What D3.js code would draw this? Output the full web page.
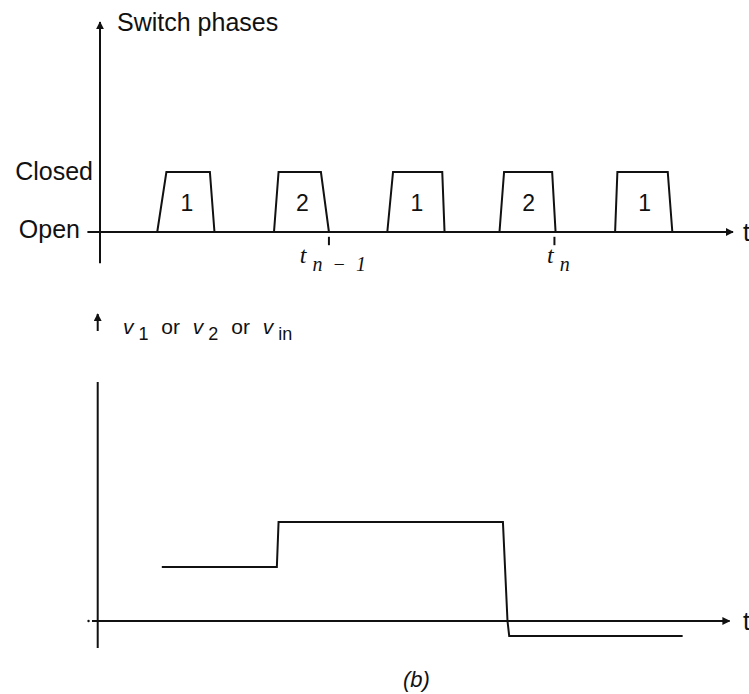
<!DOCTYPE html>
<html>
<head>
<meta charset="utf-8">
<script src="https://cdn.jsdelivr.net/npm/d3@7/dist/d3.min.js"></script>
<style>
    body { margin: 0; background: #fff; }
    text { font-family: "Liberation Sans", Arial, sans-serif; fill: #111; }
</style>
</head>
<body>
<svg id="chart"></svg>
<script>
// switch phases (time in half-periods from the origin)
var phaseLabels = ["1", "2", "1", "2", "1"];
var riseStart = [0.50, 1.52, 2.51, 3.49, 4.50];
var riseEnd = [0.58, 1.56, 2.56, 3.53, 4.52];
var fallStart = [0.96, 1.93, 2.99, 3.95, 4.96];
var fallEnd = [1.00, 2.00, 3.01, 3.98, 5.00];
var stateLabels = ["Open", "Closed"];
var sampleTimes = [2.00, 3.97];
var sampleSubs = ["n \u2212 1", "n"];

// voltage waveform (b)
var vTimes = [0.54, 1.545, 1.56, 3.52, 3.56, 3.575, 5.09];
var vValues = [0.54, 0.54, 0.99, 0.99, 0.0, -0.15, -0.15];

var width = 749,
    height = 694;

var svg = d3.select("#chart")
    .attr("width", width)
    .attr("height", height);

svg.append("defs").append("marker")
    .attr("id", "arrow")
    .attr("viewBox", "0 0 10 10")
    .attr("refX", 9)
    .attr("refY", 5)
    .attr("markerWidth", 4)
    .attr("markerHeight", 4)
    .attr("orient", "auto")
    .append("path")
    .attr("d", "M0,0 L10,5 L0,10 Z")
    .attr("fill", "#111");

var x = d3.scaleLinear().domain([0, 5.53]).range([100, 733]);
var yTop = d3.scaleLinear().domain([0, 1]).range([232, 172]);
var yBot = d3.scaleLinear().domain([0, 1]).range([621, 521]);

var line = d3.line();

function axisLine(pts, arrow) {
    var p = svg.append("path")
        .attr("d", line(pts))
        .attr("fill", "none")
        .attr("stroke", "#111")
        .attr("stroke-width", 2);
    if (arrow) p.attr("marker-end", "url(#arrow)");
    return p;
}

// ---- top panel: switch phases ----
axisLine([[x(-0.11), yTop(0)], [x(5.53), yTop(0)]], true);
axisLine([[x(0), yTop(-0.52)], [x(0), yTop(3.5)]], true);

svg.append("text")
    .attr("x", 117)
    .attr("y", 31)
    .style("font-size", "25px")
    .text("Switch phases");

svg.selectAll(".state")
    .data(stateLabels)
    .enter().append("text")
    .attr("class", "state")
    .attr("x", function(d, i) { return i ? 93 : 80; })
    .attr("y", function(d, i) { return yTop(i) + (i ? 8 : 6); })
    .attr("text-anchor", "end")
    .style("font-size", "25px")
    .text(function(d) { return d; });

var pulses = phaseLabels.map(function(d, i) {
    return {
        label: d,
        pts: [[riseStart[i], 0], [riseEnd[i], 1], [fallStart[i], 1], [fallEnd[i], 0]]
    };
});

svg.selectAll(".pulse")
    .data(pulses)
    .enter().append("path")
    .attr("class", "pulse")
    .attr("d", function(d) {
        return line(d.pts.map(function(p) { return [x(p[0]), yTop(p[1])]; }));
    })
    .attr("fill", "none")
    .attr("stroke", "#111")
    .attr("stroke-width", 2);

svg.selectAll(".plabel")
    .data(pulses)
    .enter().append("text")
    .attr("class", "plabel")
    .attr("x", function(d) { return x((d.pts[0][0] + d.pts[3][0]) / 2) + 1; })
    .attr("y", yTop(0.35))
    .attr("text-anchor", "middle")
    .style("font-size", "23px")
    .text(function(d) { return d.label; });

// sampling instants
svg.selectAll(".stick")
    .data(sampleTimes)
    .enter().append("line")
    .attr("class", "stick")
    .attr("x1", function(d) { return x(d); })
    .attr("x2", function(d) { return x(d); })
    .attr("y1", yTop(-0.08))
    .attr("y2", yTop(-0.22))
    .attr("stroke", "#111")
    .attr("stroke-width", 2);

var slabel = svg.selectAll(".slabel")
    .data(sampleTimes)
    .enter().append("text")
    .attr("class", "slabel")
    .attr("x", function(d) { return x(d) + 4; })
    .attr("y", 263)
    .attr("text-anchor", "middle");
slabel.append("tspan")
    .style("font-size", "24px")
    .style("font-style", "italic")
    .style("font-family", "Liberation Serif, serif")
    .text("t");
slabel.append("tspan")
    .attr("dx", 6)
    .attr("dy", 8)
    .style("font-size", "20px")
    .style("font-style", "italic")
    .style("font-family", "Liberation Serif, serif")
    .style("white-space", "pre")
    .text(function(d, i) { return sampleSubs[i].replace(/ /g, "\u2002"); });

svg.append("text")
    .attr("x", 743)
    .attr("y", yTop(0) + 9)
    .style("font-size", "25px")
    .text("t");

// ---- bottom panel: v1 or v2 or vin ----
axisLine([[x(-0.02), yBot(2.9)], [x(-0.02), yBot(3.07)]], true);
axisLine([[x(-0.02), yBot(-0.27)], [x(-0.02), yBot(2.39)]], false);
axisLine([[x(-0.07), yBot(0)], [x(5.50), yBot(0)]], true);

svg.append("circle")
    .attr("cx", x(-0.1))
    .attr("cy", yBot(0))
    .attr("r", 1.2)
    .attr("fill", "#111");

var vlab = svg.append("text")
    .attr("x", 123)
    .attr("y", 334)
    .style("font-size", "21px");
var parts = [["v", "1"], [" or ", null], ["v", "2"], [" or ", null], ["v", "in"]];
parts.forEach(function(p, i) {
    vlab.append("tspan")
        .attr("dx", i ? 7 : 0)
        .attr("dy", i && parts[i - 1][1] ? -6 : 0)
        .style("font-style", p[1] ? "italic" : "normal")
        .text(p[0]);
    if (p[1]) {
        vlab.append("tspan")
            .attr("dx", 5)
            .attr("dy", 6)
            .style("font-size", "18px")
            .text(p[1]);
    }
});

svg.append("path")
    .datum(d3.zip(vTimes, vValues))
    .attr("d", d3.line()
        .x(function(d) { return x(d[0]); })
        .y(function(d) { return yBot(d[1]); }))
    .attr("fill", "none")
    .attr("stroke", "#111")
    .attr("stroke-width", 2);

svg.append("text")
    .attr("x", 743)
    .attr("y", yBot(0) + 9)
    .style("font-size", "25px")
    .text("t");

svg.append("text")
    .attr("x", 403)
    .attr("y", 687)
    .style("font-size", "22px")
    .style("font-style", "italic")
    .text("(b)");
</script>
</body>
</html>
